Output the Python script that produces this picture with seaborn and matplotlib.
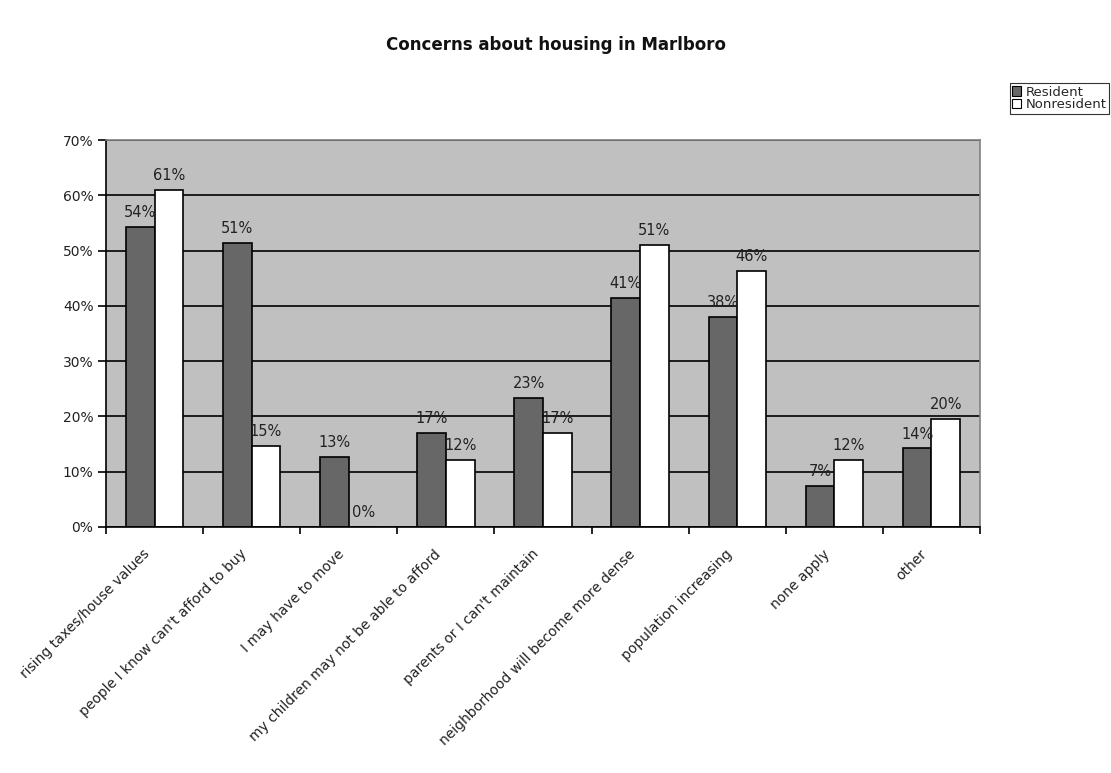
import numpy as np
import pandas as pd
import matplotlib
matplotlib.use("Agg")
import matplotlib.pyplot as plt
import matplotlib.patches as mpatches
import matplotlib.transforms as mtransforms
import seaborn as sns

categories = [
    "rising taxes/house values",
    "people I know can't afford to buy",
    "I may have to move",
    "my children may not be able to afford",
    "parents or I can't maintain",
    "neighborhood will become more dense",
    "population increasing",
    "none apply",
    "other",
]
resident = [54.2, 51.4, 12.6, 17.0, 23.3, 41.4, 38.0, 7.4, 14.2]
nonresident = [61.0, 14.6, 0.0, 12.2, 17.0, 51.0, 46.3, 12.1, 19.6]
series_names = ["Resident", "Nonresident"]
y_ticks = [0, 10, 20, 30, 40, 50, 60, 70]
title = "Concerns about housing in Marlboro"

df = pd.DataFrame({
    "category": categories * 2,
    "group": [series_names[0]] * len(categories) + [series_names[1]] * len(categories),
    "value": resident + nonresident,
})

sns.set_style("white")
plt.rcParams["font.family"] = ["DejaVu Sans"]

fig = plt.figure(figsize=(11.11, 7.73), dpi=100)
ax = fig.add_axes([106 / 1111, 1 - 527 / 773, (980 - 106) / 1111, (527 - 140) / 773])

palette = {"Resident": "#676767", "Nonresident": "#ffffff"}
sns.barplot(data=df, x="category", y="value", hue="group", order=categories,
            hue_order=series_names, palette=palette, edgecolor="black",
            linewidth=1.2, width=0.59, saturation=1, ax=ax, legend=False)

ax.set_facecolor("#c0c0c0")
ax.set_ylim(0, 70)
ax.set_xlim(-0.5, len(categories) - 0.5)
ax.set_yticks(y_ticks)
ax.set_yticklabels([f"{t}%" for t in y_ticks], fontsize=10, color="#222222")
ax.yaxis.grid(True, color="black", linewidth=1.2)
ax.xaxis.grid(False)
ax.set_axisbelow(True)

ax.set_xticks(range(len(categories)))
ax.set_xticklabels(categories, rotation=45, ha="right", va="center",
                   rotation_mode="anchor", fontsize=10, color="#222222")
ax.tick_params(axis="x", which="major", length=0, pad=18)
shift = mtransforms.ScaledTranslation(-5 / 72, 0, fig.dpi_scale_trans)
for lbl in ax.get_xticklabels():
    lbl.set_transform(lbl.get_transform() + shift)
ax.set_xticks(np.arange(-0.5, len(categories), 1), minor=True)
ax.tick_params(axis="x", which="minor", length=5, width=1.2, direction="out", color="black", bottom=True)
ax.tick_params(axis="y", length=6, width=1.2, direction="out", color="black", left=True, pad=3)
ax.set_xlabel("")
ax.set_ylabel("")

for side in ["left", "bottom"]:
    ax.spines[side].set_color("black")
    ax.spines[side].set_linewidth(1.2)
for side in ["top", "right"]:
    ax.spines[side].set_color("#808080")
    ax.spines[side].set_linewidth(1.2)

for cont, vals in zip(ax.containers, [resident, nonresident]):
    ax.bar_label(cont, labels=[f"{v:.0f}%" for v in vals], padding=5,
                 fontsize=10.5, color="#222222")

fig.text(0.5, 1 - 45 / 773, title, ha="center", va="center",
         fontsize=12, fontweight="bold", color="#111111")

handles = [mpatches.Patch(facecolor=palette[n], edgecolor="black", linewidth=0.8, label=n)
           for n in series_names]
leg = fig.legend(handles=handles, loc="upper right",
                 bbox_to_anchor=(1109 / 1111, 1 - 83 / 773), frameon=True,
                 fancybox=False, edgecolor="black", fontsize=9.5,
                 handlelength=0.7, handleheight=0.7, handletextpad=0.3,
                 borderpad=0.2, labelspacing=-0.05, borderaxespad=0)
leg.get_frame().set_linewidth(0.8)

fig.savefig("out.png", dpi=100)
